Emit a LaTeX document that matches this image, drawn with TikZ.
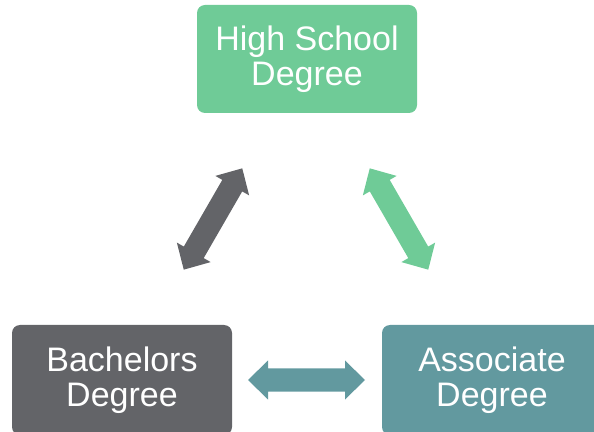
\documentclass[tikz,border=0pt]{standalone}
\usepackage{fontspec}
\setmainfont{Liberation Sans}
\definecolor{hsgreen}{RGB}{111,203,151}
\definecolor{bagray}{RGB}{99,100,104}
\definecolor{asteal}{RGB}{98,153,159}
\begin{document}
\begin{tikzpicture}[x=1pt,y=1pt,
  box/.style={rounded corners=8pt, minimum width=220pt, inner sep=0pt,
    text=white, align=center, font=\fontsize{34}{35}\selectfont},
  pics/dblarrow/.style={code={
    \path[pic actions] (-58.5,0) -- (-38.5,19.5) -- (-38.5,11.5) -- (38.5,11.5)
      -- (38.5,19.5) -- (58.5,0) -- (38.5,-19.5) -- (38.5,-11.5)
      -- (-38.5,-11.5) -- (-38.5,-19.5) -- cycle;}}]
\useasboundingbox (0,0) rectangle (594,431);
\clip (0,0) rectangle (594,431);
\node[box, fill=hsgreen, minimum height=108pt] (hs) at (307,372) {High School\\Degree};
\node[box, fill=bagray, minimum height=110pt] (ba) at (122,51) {Bachelors\\Degree};
\node[box, fill=asteal, minimum height=110pt] (as) at (492,51) {Associate\\Degree};
\coordinate (a1) at (213,212);
\coordinate (a2) at (399,212);
\coordinate (a3) at (306.5,51);
\pic[fill=bagray, rotate=60] at (a1) {dblarrow};
\pic[fill=hsgreen, rotate=120] at (a2) {dblarrow};
\pic[fill=asteal] at (a3) {dblarrow};
\end{tikzpicture}
\end{document}
